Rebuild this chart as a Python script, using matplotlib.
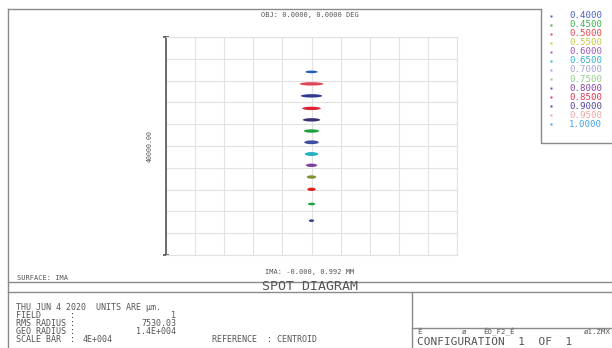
import numpy as np
import matplotlib.pyplot as plt
from matplotlib.patches import Ellipse

# wavelengths (um) shown in the legend box
wavelengths = ['0.4000', '0.4500', '0.5000', '0.5500', '0.6000', '0.6500', '0.7000',
               '0.7500', '0.8000', '0.8500', '0.9000', '0.9500', '1.0000']
legend_colors = ['#4a64c8', '#3cb050', '#e84452', '#c8c83c', '#a458b4', '#34b4c4', '#a4a4d4',
                 '#94d088', '#8444a4', '#e43458', '#54449c', '#f0a4a4', '#44a4e4']

# spots, top to bottom (um, relative to the box centre)
spot_y = [13600, 11400, 9200, 6900, 4800, 2750, 680, -1470, -3540, -5690, -7950, -10640, -13700]
spot_w = [1700, 3250, 2950, 2550, 2400, 2100, 2000, 1850, 1550, 1300, 1150, 1000, 720]
spot_h = [480, 620, 620, 620, 620, 620, 700, 700, 620, 620, 620, 480, 480]
spot_colors = ['#2060b0', '#e04458', '#303890', '#e02034', '#3c3070', '#20a040', '#4050a0',
               '#20b0c0', '#8040a0', '#809030', '#e02020', '#20a040', '#304090']

box_um = 40000
grey = '#555555'
line = '#8a8a8a'
mono = 'DejaVu Sans Mono'

fig = plt.figure(figsize=(6.12, 3.48), dpi=100)

# page frame + text, in pixel coordinates
bg = fig.add_axes([0, 0, 1, 1])
bg.set_xlim(0, 612)
bg.set_ylim(348, 0)
bg.axis('off')

bg.plot([8, 8], [9, 348], color=line, lw=1)
bg.plot([8, 541], [9, 9], color=line, lw=1)
bg.plot([541, 541, 612], [9, 143, 143], color=line, lw=1)
bg.plot([8, 612], [282, 282], color=line, lw=1)
bg.plot([8, 612], [292, 292], color=line, lw=1)
bg.plot([412, 412], [292, 348], color=line, lw=1)
bg.plot([412, 612], [328, 328], color=line, lw=1)

bg.text(310, 15, 'OBJ: 0.0000, 0.0000 DEG', ha='center', va='center',
        fontsize=5, family=mono, color=grey)
bg.text(17, 278, 'SURFACE: IMA', ha='left', va='center', fontsize=5, family=mono, color=grey)
bg.text(310, 272, 'IMA: -0.000, 0.992 MM', ha='center', va='center',
        fontsize=5, family=mono, color=grey)
bg.text(310, 287, 'SPOT DIAGRAM', ha='center', va='center', fontsize=9.5, family=mono, color=grey)
bg.text(150, 146, '40000.00', ha='center', va='center', rotation=90,
        fontsize=4.8, family=mono, color=grey)

rows = [308, 316, 323.5, 331, 339]
bg.text(16, rows[0], 'THU JUN 4 2020  UNITS ARE \u00b5m.', ha='left', va='center',
        fontsize=6, family=mono, color=grey)
labels = ['FIELD', 'RMS RADIUS', 'GEO RADIUS', 'SCALE BAR']
values = ['1', '7530.03', '1.4E+004', '4E+004']
for i, (lab, val) in enumerate(zip(labels, values)):
    y = rows[i + 1]
    bg.text(16, y, lab, ha='left', va='center', fontsize=6, family=mono, color=grey)
    bg.text(70, y, ':', ha='left', va='center', fontsize=6, family=mono, color=grey)
    if i < 3:
        bg.text(176, y, val, ha='right', va='center', fontsize=6, family=mono, color=grey)
    else:
        bg.text(83, y, val, ha='left', va='center', fontsize=6, family=mono, color=grey)
bg.text(212, rows[4], 'REFERENCE  : CENTROID', ha='left', va='center',
        fontsize=6, family=mono, color=grey)

small_y = 332
bg.text(417, small_y, '\u00c9', ha='left', va='center', fontsize=5.3, family=mono, color=grey)
bg.text(462, small_y, '\u00f8', ha='left', va='center', fontsize=5.3, family=mono, color=grey)
bg.text(483, small_y, '\u00c9O_F2_\u00c9', ha='left', va='center', fontsize=5.3, family=mono, color=grey)
bg.text(611, small_y, '\u00f81.ZMX', ha='right', va='center', fontsize=5.3, family=mono, color=grey)
bg.text(417, 341.8, 'CONFIGURATION  1  OF  1', ha='left', va='center',
        fontsize=8, family=mono, color=grey)

# legend box
for i, (wl, c) in enumerate(zip(wavelengths, legend_colors)):
    y = 15.5 + i * 9.08
    bg.plot(551, y, marker='s', ms=1.6, color=c, mec='none')
    bg.text(569, y, wl, ha='left', va='center', fontsize=6.6, family=mono, color=c)

# spot diagram box
ax = fig.add_axes([166 / 612, (348 - 255) / 348, 291 / 612, 218 / 348])
half = box_um / 2
ax.set_xlim(-half, half)
ax.set_ylim(-half, half)
ticks = np.arange(-half, half + 1, box_um / 10)
ax.set_xticks(ticks)
ax.set_yticks(ticks)
ax.grid(color='#e2e2e2', lw=0.8)
ax.tick_params(length=0, labelleft=False, labelbottom=False)
for s in ['top', 'right', 'bottom']:
    ax.spines[s].set_color('#e2e2e2')
    ax.spines[s].set_linewidth(0.8)
ax.spines['left'].set_color(grey)
ax.spines['left'].set_linewidth(1.2)
ax.set_axisbelow(True)
# end caps on the scale axis
for yy in (0, 1):
    ax.plot([-0.012, 0.012], [yy, yy], transform=ax.transAxes, color=grey, lw=1.2,
            clip_on=False, solid_capstyle='butt')

for y, w, h, c in zip(spot_y, spot_w, spot_h, spot_colors):
    ax.add_patch(Ellipse((0, y), w, h, color=c, lw=0))

fig.savefig('out.png', dpi=100)
